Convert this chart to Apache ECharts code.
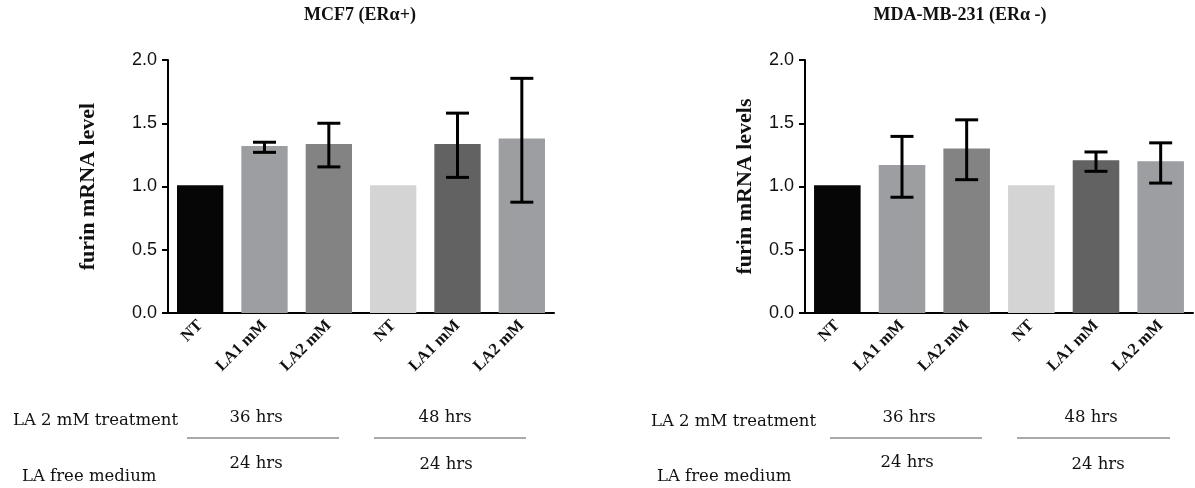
<!DOCTYPE html>
<html>
<head>
<meta charset="utf-8">
<script src="https://cdn.jsdelivr.net/npm/echarts@6/dist/echarts.min.js"></script>
<style>
  html, body { margin: 0; padding: 0; background: #fff; }
  #main { width: 1195px; height: 488px; }
</style>
</head>
<body>
<div id="main"></div>
<script>
// ---- data ----
const categories = ['NT', 'LA1 mM', 'LA2 mM', 'NT', 'LA1 mM', 'LA2 mM'];
const barColors = ['#060606', '#9d9ea2', '#838383', '#d4d4d4', '#626262', '#9d9ea2'];

const mcf7Title = 'MCF7 (ERα+)';
const mcf7Values = [1.01, 1.32, 1.335, 1.01, 1.335, 1.38];
const mcf7Upper  = [null, 1.35, 1.50, null, 1.58, 1.855];
const mcf7Lower  = [null, 1.27, 1.155, null, 1.072, 0.876];

const mdaTitle = 'MDA-MB-231 (ERα -)';
const mdaValues = [1.01, 1.17, 1.30, 1.01, 1.207, 1.199];
const mdaUpper  = [null, 1.396, 1.527, null, 1.273, 1.345];
const mdaLower  = [null, 0.915, 1.054, null, 1.12, 1.027];

const yTicks = [0, 0.5, 1.0, 1.5, 2.0];
const yNames = ['furin mRNA level', 'furin mRNA levels'];

const treatmentLabel = 'LA 2 mM treatment';
const mediumLabel = 'LA free medium';
const treatmentTimes = ['36 hrs', '48 hrs'];
const mediumTimes = ['24 hrs', '24 hrs'];

// ---- chart ----
const chart = echarts.init(document.getElementById('main'));
const SERIF = '"Liberation Serif", "Times New Roman", serif';
const WSERIF = '"DejaVu Serif", serif';
const SANS = '"Liberation Sans", Arial, sans-serif';

function xAxisFor(gi) {
  return {
    type: 'category', gridIndex: gi, data: categories,
    axisLine: { lineStyle: { color: '#000', width: 2 } },
    axisTick: { alignWithLabel: true, length: 6, lineStyle: { color: '#000', width: 2 } },
    axisLabel: {
      rotate: 45, interval: 0, margin: 10,
      fontFamily: SERIF, fontWeight: 'bold', fontSize: 16.5, color: '#111'
    }
  };
}
function yAxisFor(gi, name, gap) {
  return {
    type: 'value', gridIndex: gi, min: yTicks[0], max: yTicks[yTicks.length - 1],
    interval: yTicks[1] - yTicks[0],
    name: name, nameLocation: 'middle', nameRotate: 90, nameGap: gap,
    nameTextStyle: { fontFamily: SERIF, fontWeight: 'bold', fontSize: 22, color: '#111' },
    splitLine: { show: false },
    axisLine: { show: true, lineStyle: { color: '#000', width: 2 } },
    axisTick: { show: true, length: 6, lineStyle: { color: '#000', width: 2 } },
    axisLabel: {
      margin: 11, fontFamily: SANS, fontSize: 18, color: '#111',
      formatter: v => v.toFixed(1)
    }
  };
}
function barSeries(gi, values) {
  return {
    type: 'bar', xAxisIndex: gi, yAxisIndex: gi,
    barCategoryGap: '28%',
    data: values.map((v, i) => ({ value: v, itemStyle: { color: barColors[i] } })),
    silent: true, animation: false
  };
}
function errSeries(gi, upper, lower) {
  const data = [];
  upper.forEach((u, i) => { if (u != null) data.push([i, lower[i], u]); });
  return {
    type: 'custom', xAxisIndex: gi, yAxisIndex: gi, data: data, z: 10,
    animation: false, silent: true,
    renderItem: function (params, api) {
      const x = api.value(0);
      const lo = api.coord([x, api.value(1)]);
      const hi = api.coord([x, api.value(2)]);
      const half = 11.5;
      const style = { stroke: '#000', lineWidth: 3 };
      return {
        type: 'group',
        children: [
          { type: 'line', shape: { x1: lo[0], y1: lo[1], x2: hi[0], y2: hi[1] }, style: style },
          { type: 'line', shape: { x1: hi[0] - half, y1: hi[1], x2: hi[0] + half, y2: hi[1] }, style: style },
          { type: 'line', shape: { x1: lo[0] - half, y1: lo[1], x2: lo[0] + half, y2: lo[1] }, style: style }
        ]
      };
    }
  };
}

function txt(x, y, s, align) {
  return {
    type: 'text', x: x, y: y,
    style: { text: s, fontFamily: WSERIF, fontSize: 16.5, fill: '#111', textAlign: align || 'center', textVerticalAlign: 'middle' }
  };
}
function title(x, s) {
  return { type: 'text', x: x, y: 15, style: { text: s, fontFamily: SERIF, fontWeight: 'bold', fontSize: 18, fill: '#111', textAlign: 'center', textVerticalAlign: 'middle' } };
}
function hline(x1, x2, y) {
  return { type: 'line', shape: { x1: x1, y1: y, x2: x2, y2: y }, style: { stroke: '#555', lineWidth: 1 } };
}

const graphics = [
  title(360, mcf7Title),
  title(960, mdaTitle),
  // left panel annotations
  txt(13, 421, treatmentLabel, 'left'),
  txt(256, 418, treatmentTimes[0]),
  txt(445, 418, treatmentTimes[1]),
  hline(187, 339, 438), hline(374, 526, 438),
  txt(256, 464, mediumTimes[0]),
  txt(446, 465, mediumTimes[1]),
  txt(22, 477, mediumLabel, 'left'),
  // right panel annotations
  txt(651, 422, treatmentLabel, 'left'),
  txt(909, 418, treatmentTimes[0]),
  txt(1091, 418, treatmentTimes[1]),
  hline(830, 982, 438), hline(1017, 1170, 438),
  txt(907, 463, mediumTimes[0]),
  txt(1098, 465, mediumTimes[1]),
  txt(657, 477, mediumLabel, 'left')
];

chart.setOption({
  animation: false,
  backgroundColor: '#fff',
  grid: [
    { left: 168, right: 641, top: 60, bottom: 175 },
    { left: 805, right: 2, top: 60, bottom: 175 }
  ],
  xAxis: [xAxisFor(0), xAxisFor(1)],
  yAxis: [yAxisFor(0, yNames[0], 69), yAxisFor(1, yNames[1], 49)],
  series: [
    barSeries(0, mcf7Values), errSeries(0, mcf7Upper, mcf7Lower),
    barSeries(1, mdaValues), errSeries(1, mdaUpper, mdaLower)
  ],
  graphic: graphics
});
</script>
</body>
</html>
